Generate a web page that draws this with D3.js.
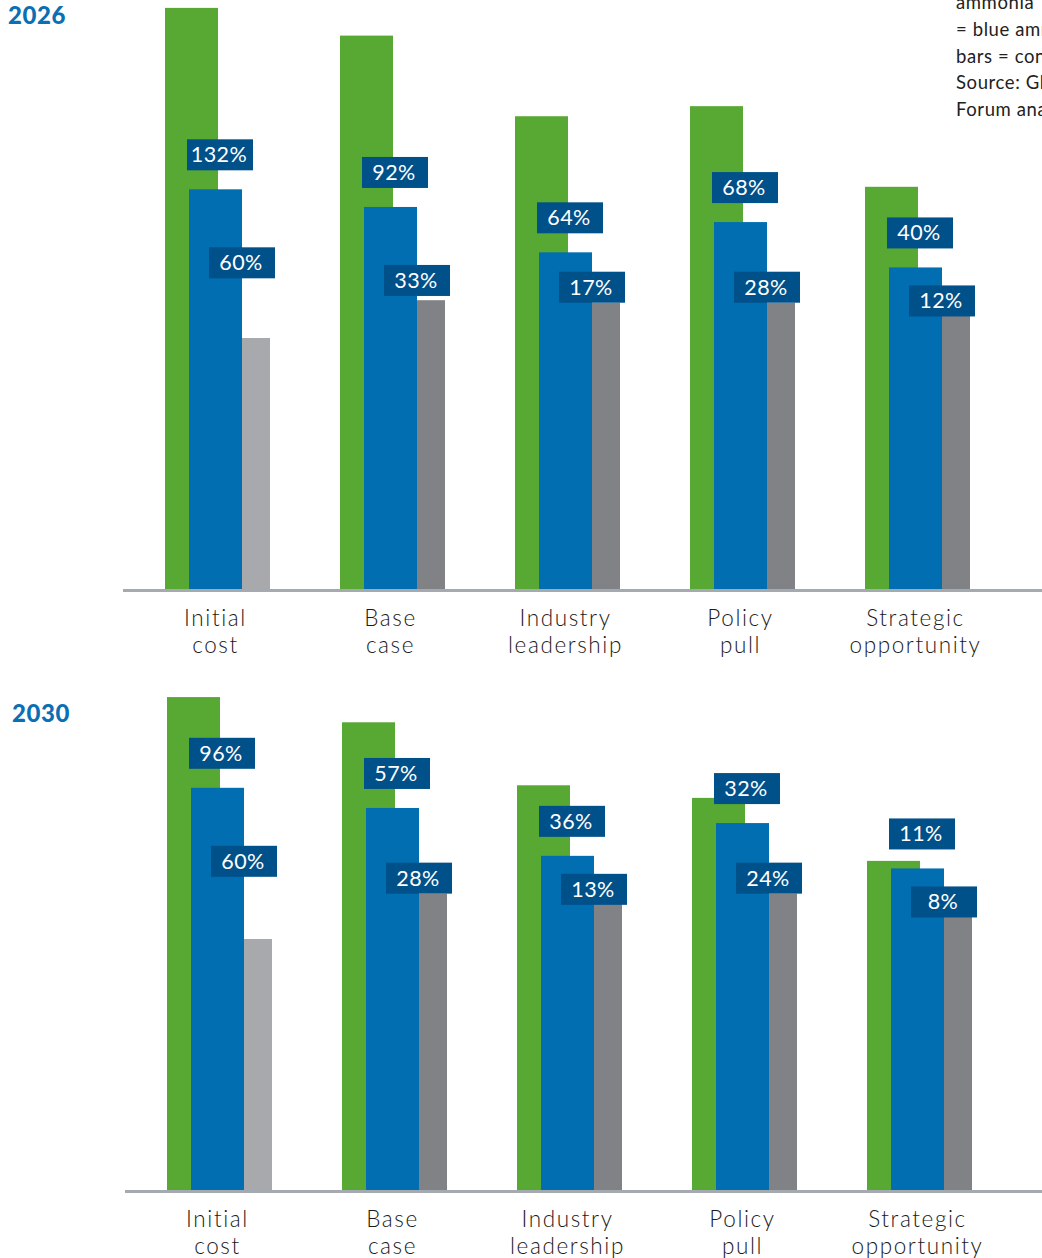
<!DOCTYPE html>
<html>
<head>
<meta charset="utf-8">
<script src="https://cdn.jsdelivr.net/npm/d3@7"></script>
<style>
  body { margin: 0; background: #fff; }
  svg { display: block; }
  .cat { font-family: "Lato", sans-serif; font-weight: 300; font-size: 22.5px; fill: #1a1a1a; letter-spacing: 1.6px; }
  .pct { font-family: "Lato", sans-serif; font-weight: 400; font-size: 21.5px; fill: #fff; letter-spacing: 0.5px; }
  .year { font-family: "Lato", sans-serif; font-weight: 900; font-size: 24px; fill: #0a6fb3; letter-spacing: 0.6px; }
  .note { font-family: "Lato", sans-serif; font-size: 18.5px; fill: #222; letter-spacing: 0.6px; }
</style>
</head>
<body>
<div class="chart"></div>
<script>
var svgWidth = 1042;
var svgHeight = 1258;

// scenario names, split over two lines
var categories = ["Initial cost", "Base case", "Industry leadership", "Policy pull", "Strategic opportunity"];
var categoryLines = [["Initial", "cost"], ["Base", "case"], ["Industry", "leadership"], ["Policy", "pull"], ["Strategic", "opportunity"]];

// bar heights (relative cost, initial conventional = 100)
var green2026 = [231, 220, 188, 192, 160];
var blue2026 = [159, 152, 134, 146, 128];
var grey2026 = [100, 115, 114, 114, 114];
var greenLabels2026 = ["132%", "92%", "64%", "68%", "40%"];
var blueLabels2026 = ["60%", "33%", "17%", "28%", "12%"];

var green2030 = [196, 186, 161, 156, 131];
var blue2030 = [160, 152, 133, 146, 128];
var grey2030 = [100, 118, 118, 118, 119];
var greenLabels2030 = ["96%", "57%", "36%", "32%", "11%"];
var blueLabels2030 = ["60%", "28%", "13%", "24%", "8%"];

var noteLines = ["ammonia", "= blue ammonia; grey", "bars = conventional ammonia", "Source: Global Maritime", "Forum analysis"];

var svg = d3.select(".chart")
  .append("svg")
  .attr("width", svgWidth)
  .attr("height", svgHeight);

// note in the top right corner, cut by the page edge as in the original
svg.append("g").selectAll("text")
  .data(noteLines)
  .enter()
  .append("text")
  .attr("class", "note")
  .attr("x", 956)
  .attr("y", (d, i) => 9 + i * 26.8)
  .text(d => d);

function drawPanel(year, baseline, left, green, blue, grey, greenLabels, blueLabels, yearX, yearY) {
  var g = svg.append("g");

  var x = d3.scaleBand()
    .domain(categories)
    .range([left, left + 5 * 175 - 70])
    .paddingInner(0.4)
    .paddingOuter(0);

  var y = d3.scaleLinear()
    .domain([0, 100])
    .range([baseline, baseline - 252]);

  var rows = categories.map((c, i) => ({
    cat: c, lines: categoryLines[i],
    green: green[i], blue: blue[i], grey: grey[i],
    gl: greenLabels[i], bl: blueLabels[i], i: i
  }));

  g.append("text")
    .attr("class", "year")
    .attr("x", yearX)
    .attr("y", yearY)
    .text(year);

  var bw = 53;

  // green bars
  g.selectAll(".green")
    .data(rows)
    .enter()
    .append("rect")
    .attr("x", d => x(d.cat))
    .attr("y", d => y(d.green))
    .attr("width", bw)
    .attr("height", d => baseline - y(d.green))
    .attr("fill", "#58a834");

  // grey bars
  g.selectAll(".grey")
    .data(rows)
    .enter()
    .append("rect")
    .attr("x", d => x(d.cat) + 77)
    .attr("y", d => y(d.grey))
    .attr("width", x.bandwidth() - 77)
    .attr("height", d => baseline - y(d.grey))
    .attr("fill", d => d.i === 0 ? "#a7a9ac" : "#808285");

  // blue bars
  g.selectAll(".blue")
    .data(rows)
    .enter()
    .append("rect")
    .attr("x", d => x(d.cat) + 24)
    .attr("y", d => y(d.blue))
    .attr("width", bw)
    .attr("height", d => baseline - y(d.blue))
    .attr("fill", "#006eb1");

  // baseline
  g.append("rect")
    .attr("x", left - 42)
    .attr("y", baseline - 1)
    .attr("width", svgWidth - left + 42)
    .attr("height", 3)
    .attr("fill", "#a4aab0");

  // percentage boxes
  function labelTopGreen(d) {
    return y(d.blue) - 50;
  }
  function labelTopBlue(d) {
    var bt = y(d.blue);
    return Math.min(bt + 58, Math.max(bt + 18, y(d.grey) - 31));
  }

  var boxes = [];
  rows.forEach(function(d) {
    boxes.push({ x: x(d.cat) + 22, y: labelTopGreen(d), t: d.gl });
    boxes.push({ x: x(d.cat) + 44, y: labelTopBlue(d), t: d.bl });
  });

  var lab = g.selectAll(".lab")
    .data(boxes)
    .enter()
    .append("g")
    .attr("transform", d => `translate(${d.x}, ${d.y})`);

  lab.append("rect")
    .attr("width", 66)
    .attr("height", 31)
    .attr("fill", "#00508a");

  lab.append("text")
    .attr("class", "pct")
    .attr("x", 32)
    .attr("y", 23)
    .attr("text-anchor", "middle")
    .text(d => d.t);

  // category labels, one text per line
  var lines = [];
  rows.forEach(function(d) {
    d.lines.forEach(function(t, k) {
      lines.push({ x: x(d.cat) + x.bandwidth() / 2 - 2, k: k, t: t });
    });
  });

  g.selectAll(".cat")
    .data(lines)
    .enter()
    .append("text")
    .attr("class", "cat")
    .attr("text-anchor", "middle")
    .attr("x", d => d.x)
    .attr("y", d => baseline + 36 + d.k * 27)
    .text(d => d.t);
}

drawPanel("2026", 590, 165, green2026, blue2026, grey2026, greenLabels2026, blueLabels2026, 8, 24);
drawPanel("2030", 1191, 167, green2030, blue2030, grey2030, greenLabels2030, blueLabels2030, 12, 722);
</script>
</body>
</html>
